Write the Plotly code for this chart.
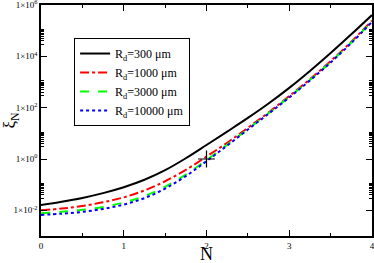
import plotly.graph_objects as go

N = [0, 0.25, 0.5, 0.75, 1.0, 1.25, 1.5, 1.75, 2.0, 2.25, 2.5, 2.75, 3.0, 3.25, 3.5, 3.75, 4.0]

xi_300 = [0.0162, 0.0216, 0.0305, 0.0468, 0.0794, 0.155, 0.367, 1.07, 3.51, 11.7, 39.8, 145, 589, 2692, 1.35e4, 7.24e4, 4.07e5]
xi_1000 = [1.0e-2, 1.17e-2, 1.48e-2, 2.07e-2, 3.20e-2, 5.96e-2, 0.136, 0.376, 1.24, 4.31, 16.4, 65.3, 282, 1288, 6457, 3.72e4, 2.45e5]
xi_3000 = [7.76e-3, 8.71e-3, 1.05e-2, 1.36e-2, 2.02e-2, 3.59e-2, 8.22e-2, 0.248, 0.902, 3.59, 14.6, 61.0, 263, 1202, 6026, 3.47e4, 2.29e5]
xi_10000 = [6.61e-3, 7.41e-3, 8.71e-3, 1.135e-2, 1.68e-2, 2.99e-2, 7.0e-2, 0.216, 0.822, 3.35, 14.0, 58.2, 251, 1148, 5754, 3.31e4, 2.19e5]

cross_N = [2]
cross_xi = [1]

series_names = ["R<sub>d</sub>=300 μm", "R<sub>d</sub>=1000 μm", "R<sub>d</sub>=3000 μm", "R<sub>d</sub>=10000 μm"]

x_tickvals = [0, 1, 2, 3, 4]
x_ticktext = ["0", "1", "2", "3", "4"]
x_minor = [0.5, 1.5, 2.5, 3.5]
y_tickvals = [1e-2, 1, 1e2, 1e4, 1e6]
y_ticktext = ["1×10<sup>-2</sup>", "1×10<sup>0</sup>", "1×10<sup>2</sup>", "1×10<sup>4</sup>", "1×10<sup>6</sup>"]
y_minor = [k * b for b in [1e-2, 1, 1e2, 1e4] for k in range(3, 12)]

serif = "Liberation Serif, Times New Roman, serif"

fig = go.Figure()
styles = [("#000000", "solid"), ("#ff0000", "dashdot"), ("#00ff00", "dash"), ("#0000ff", "dot")]
for name, ys, (col, dash) in zip(series_names, [xi_300, xi_1000, xi_3000, xi_10000], styles):
    fig.add_trace(go.Scatter(x=N, y=ys, mode="lines", name=name,
                             line=dict(color=col, dash=dash, width=2, shape="spline")))

fig.add_trace(go.Scatter(x=cross_N, y=cross_xi, mode="markers", showlegend=False,
                         marker=dict(symbol="cross-thin", size=12, line=dict(color="black", width=1.2))))

fig.add_annotation(text="N", xref="paper", yref="paper", x=0.5, y=-0.124,
                   xanchor="center", yanchor="bottom", showarrow=False, borderpad=0,
                   font=dict(family=serif, size=18, color="black"))

fig.update_layout(
    width=374, height=263,
    margin=dict(l=41, r=2, t=5, b=27),
    paper_bgcolor="white", plot_bgcolor="white",
    font=dict(family=serif, color="black"),
    legend=dict(x=0.1, y=0.857, xanchor="left", yanchor="top",
                bgcolor="white", bordercolor="black", borderwidth=1,
                font=dict(family=serif, size=12), tracegroupgap=0),
    xaxis=dict(range=[0, 4], tickmode="array", tickvals=x_tickvals, ticktext=x_ticktext,
               ticks="inside", ticklen=6, tickwidth=1, tickcolor="black",
               showline=True, linecolor="black", linewidth=1.5, mirror="allticks",
               showgrid=False, zeroline=False, tickfont=dict(size=9), automargin=False,
               ticklabeloverflow="allow",
               minor=dict(tickmode="array", tickvals=x_minor, ticks="inside", ticklen=3, tickcolor="black")),
    yaxis=dict(type="log", range=[-3, 6], tickmode="array", tickvals=y_tickvals, ticktext=y_ticktext,
               ticks="inside", ticklen=6, tickwidth=1, tickcolor="black",
               showline=True, linecolor="black", linewidth=1.5, mirror="allticks",
               showgrid=False, zeroline=False, tickfont=dict(size=9), automargin=False,
               ticklabeloverflow="allow",
               minor=dict(tickmode="array", tickvals=y_minor, ticks="inside", ticklen=3, tickcolor="black"),
               title=dict(text="ξ<sub>N</sub>", font=dict(size=17), standoff=2)),
)

fig.write_html("out.html", config={"displayModeBar": False},
               post_script="document.body.style.margin='0px';")
